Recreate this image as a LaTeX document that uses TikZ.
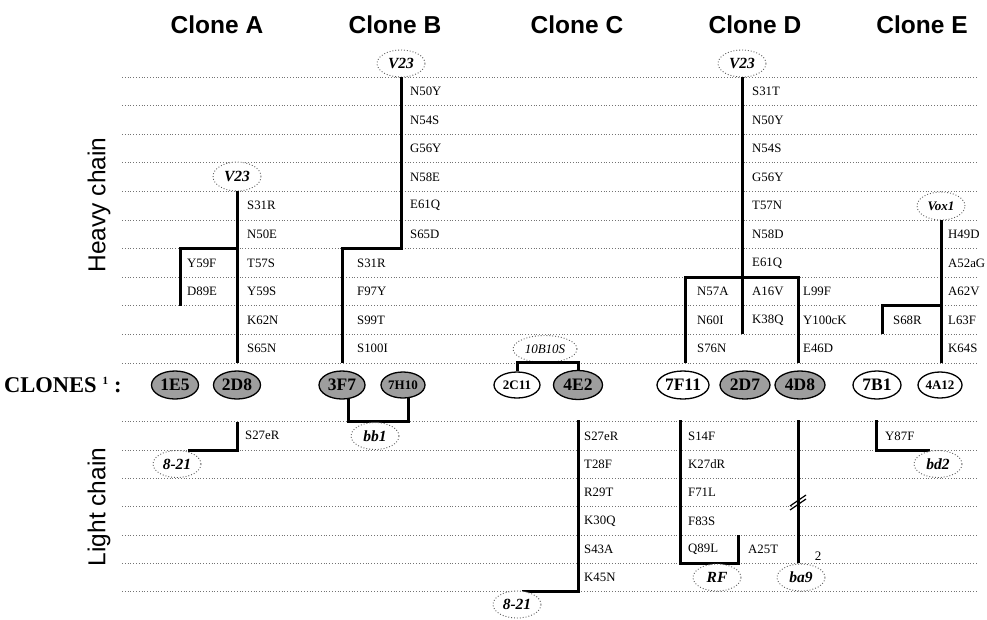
\documentclass[tikz,border=0pt]{standalone}
\usepackage{fontspec}
\setmainfont{Liberation Serif}
\newfontfamily\hsans{Liberation Sans}
\usetikzlibrary{shapes.geometric}
\definecolor{cgray}{RGB}{158,158,158}
\begin{document}
\begin{tikzpicture}[x=1pt,y=-1pt,
  grid/.style={black!55, dotted, line width=0.8pt},
  bar/.style={line width=3pt, line join=miter},
  mut/.style={anchor=west, inner sep=0pt, font=\fontsize{12.8}{12.8}\selectfont},
  germ/.style={ellipse, draw=black!65, dotted, line width=0.9pt, fill=white, minimum width=48pt, minimum height=27pt, inner sep=0pt, font=\fontsize{15.5}{15.5}\selectfont\bfseries\itshape},
  clone/.style={ellipse, draw=black, line width=1.3pt, minimum width=48pt, minimum height=28pt, inner sep=0pt, font=\fontsize{17.5}{17.5}\selectfont\bfseries},
  sclone/.style={clone, minimum width=44pt, minimum height=26pt, font=\fontsize{13}{13}\selectfont\bfseries},
  head/.style={font=\hsans\fontsize{24.5}{24.5}\selectfont\bfseries},
  side/.style={font=\hsans\fontsize{24.5}{24.5}\selectfont, rotate=90},
  brk/.style={line width=1.2pt}
]
\useasboundingbox (0,0) rectangle (987,619);

% grid lines
\foreach \k in {0,...,10} \draw[grid] (122,{77+28.6*\k}) -- (978,{77+28.6*\k});
\foreach \k in {0,...,6} \draw[grid] (122,{421.7+28.33*\k}) -- (978,{421.7+28.33*\k});

% headers
\node[head] (hA) at (217,25) {Clone A};
\node[head] (hB) at (395,25) {Clone B};
\node[head] (hC) at (577,25) {Clone C};
\node[head] (hD) at (755,25) {Clone D};
\node[head] (hE) at (922,25) {Clone E};
\node[side] (hv) at (99,205) {Heavy chain};
\node[side] (lt) at (99,507) {Light chain};
\node[anchor=west, inner sep=0pt, font=\fontsize{22.5}{22.5}\selectfont\bfseries] (cl) at (4,385) {CLONES\hspace{6pt}{\fontsize{11}{11}\selectfont\raisebox{8pt}{1}}\hspace{6pt}:};

% clone ellipses
\node[clone, fill=cgray, minimum width=47pt] (n1E5) at (175,385) {1E5};
\node[clone, fill=cgray, minimum width=47pt] (n2D8) at (237,385) {2D8};
\node[clone, fill=cgray, minimum width=46pt] (n3F7) at (342,385) {3F7};
\node[sclone, fill=cgray] (n7H10) at (403,385) {7H10};
\node[sclone, minimum width=46pt] (n2C11) at (517,385) {2C11};
\node[clone, fill=cgray, minimum width=49pt, minimum height=29pt] (n4E2) at (578,385) {4E2};
\node[clone, minimum width=52pt] (n7F11) at (683,385) {7F11};
\node[clone, fill=cgray, minimum width=50pt] (n2D7) at (745,385) {2D7};
\node[clone, fill=cgray, minimum width=50pt] (n4D8) at (800,385) {4D8};
\node[clone, minimum width=48pt] (n7B1) at (877,385) {7B1};
\node[sclone] (n4A12) at (940,385) {4A12};

% ---------- Heavy chain ----------
% Clone A
\node[germ, minimum height=29pt] (gA) at (237,176.5) {V23};
\coordinate (aEnd) at (237,363);
\coordinate (aBr) at (237,248.6);
\coordinate (aBrEnd) at (180,305.8);
\draw[bar] (gA.south) -- (aEnd);
\draw[bar] (aBr) -| (aBrEnd);
\foreach \t [count=\i from 4] in {S31R,N50E,T57S,Y59S,K62N,S65N}
  \node[mut] (hA\i) at (247,{77+28.6*(\i+0.5)}) {\t};
\foreach \t [count=\i from 6] in {Y59F,D89E}
  \node[mut] (hAb\i) at (187,{77+28.6*(\i+0.5)}) {\t};

% Clone B
\node[germ] (gB) at (401,63.5) {V23};
\coordinate (bBr) at (401,248.6);
\coordinate (bEnd) at (342,363);
\draw[bar] (gB.south) -- (bBr) -| (bEnd);
\foreach \t [count=\i from 0] in {N50Y,N54S,G56Y,N58E,E61Q,S65D}
  \node[mut] (hB\i) at (410,{77+28.6*(\i+0.5)}) {\t};
\foreach \t [count=\i from 6] in {S31R,F97Y,S99T,S100I}
  \node[mut] (hBb\i) at (357,{77+28.6*(\i+0.5)}) {\t};

% Clone C
\node[germ, minimum width=64pt, font=\fontsize{13}{13}\selectfont\itshape] (gC) at (545,349) {10B10S};
\coordinate (cL) at (517,362.5);
\coordinate (cR) at (578,362.5);
\draw[bar] (n2C11.north) -- (cL) -- (cR) -- (n4E2.north);

% Clone D
\node[germ] (gD) at (742,63.5) {V23};
\coordinate (dEnd) at (742,334.4);
\coordinate (dL) at (685,277.2);
\coordinate (dR) at (798,277.2);
\coordinate (dLe) at (685,363);
\coordinate (dRe) at (798,363);
\draw[bar] (gD.south) -- (dEnd);
\draw[bar] (dLe) -- (dL) -- (dR) -- (dRe);
\foreach \t [count=\i from 0] in {S31T,N50Y,N54S,G56Y,T57N,N58D,E61Q,A16V,K38Q}
  \node[mut] (hD\i) at (752,{77+28.6*(\i+0.5)}) {\t};
\foreach \t [count=\i from 7] in {N57A,N60I,S76N}
  \node[mut] (hDl\i) at (697,{77+28.6*(\i+0.5)}) {\t};
\foreach \t [count=\i from 7] in {L99F,Y100cK,E46D}
  \node[mut] (hDr\i) at (803,{77+28.6*(\i+0.5)}) {\t};

% Clone E
\node[germ, font=\fontsize{13}{13}\selectfont\bfseries\itshape, minimum height=28pt] (gE) at (941,206) {Vox1};
\coordinate (eEnd) at (941,363);
\coordinate (eBr) at (941,305.8);
\coordinate (eBrEnd) at (882,334.4);
\draw[bar] (gE.south) -- (eEnd);
\draw[bar] (eBr) -| (eBrEnd);
\foreach \t [count=\i from 5] in {H49D,A52aG,A62V,L63F,K64S}
  \node[mut] (hE\i) at (948,{77+28.6*(\i+0.5)}) {\t};
\node[mut] (hEs) at (893,{77+28.6*8.5}) {S68R};

% ---------- Light chain ----------
% Clone A
\coordinate (laTop) at (237,421.7);
\coordinate (laC) at (237,450);
\coordinate (laE) at (188,450);
\draw[bar] (laTop) -- (laC) -- (laE);
\node[germ] (lA) at (177,464) {8-21};
\node[mut] (lAm) at (245,435.8) {S27eR};

% bb1
\coordinate (bbLt) at (348,398);
\coordinate (bbRt) at (408,397);
\coordinate (bbL) at (348,421.7);
\coordinate (bbR) at (408,421.7);
\draw[bar] (bbLt) -- (bbL) -- (bbR) -- (bbRt);
\node[germ] (bb) at (375,436) {bb1};

% Clone C
\coordinate (lcTop) at (578,420);
\coordinate (lcC) at (578,591.7);
\coordinate (lcE) at (522,591.7);
\draw[bar] (lcTop) -- (lcC) -- (lcE);
\node[germ] (lC) at (517,604.5) {8-21};
\foreach \t [count=\i from 0] in {S27eR,T28F,R29T,K30Q,S43A,K45N}
  \node[mut] (lCm\i) at (584,{421.7+28.33*(\i+0.5)}) {\t};

% Clone D
\coordinate (ldTop) at (680,420);
\coordinate (ldB) at (680,563.3);
\coordinate (ldR) at (738,563.3);
\coordinate (ldRt) at (738,535);
\draw[bar] (ldTop) -- (ldB) -- (ldR) -- (ldRt);
\node[germ] (RF) at (717,577.5) {RF};
\foreach \t [count=\i from 0] in {S14F,K27dR,F71L,F83S,Q89L}
  \node[mut] (lDm\i) at (688,{421.7+28.33*(\i+0.5)}) {\t};
\node[mut] (lDa) at (748,549.2) {A25T};

\coordinate (l4Top) at (798,420);
\coordinate (l4B) at (798,563.3);
\draw[bar] (l4Top) -- (l4B);
\coordinate (k1a) at (790,506);
\coordinate (k1b) at (806,495);
\coordinate (k2a) at (790,510);
\coordinate (k2b) at (806,499);
\draw[brk] (k1a) -- (k1b);
\draw[brk] (k2a) -- (k2b);
\node[germ] (ba9) at (801,577.5) {ba9};
\node[inner sep=0pt, font=\fontsize{13}{13}\selectfont] (sup2) at (818,556) {2};

% Clone E
\coordinate (leTop) at (876,420);
\coordinate (leC) at (876,450);
\coordinate (leE) at (930,450);
\draw[bar] (leTop) -- (leC) -- (leE);
\node[germ] (bd2) at (938,464) {bd2};
\node[mut] (lEm) at (885,435.8) {Y87F};
\end{tikzpicture}
\end{document}
